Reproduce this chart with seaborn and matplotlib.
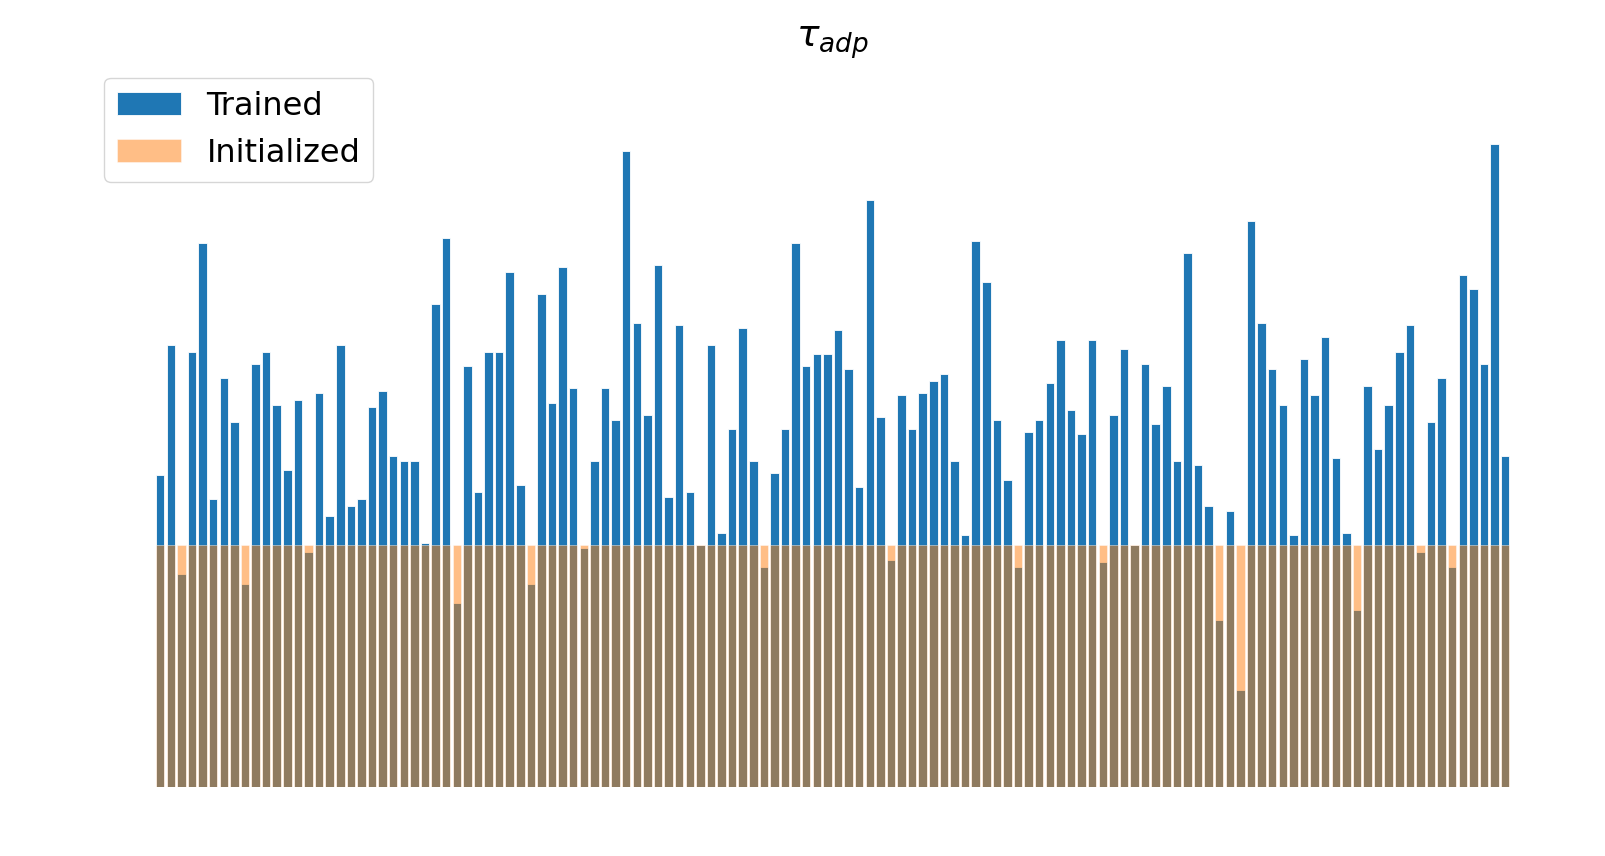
import numpy as np
import pandas as pd
import matplotlib
matplotlib.use("Agg")
import matplotlib.pyplot as plt
import seaborn as sns

# tau_adp per neuron, in units of the (constant) initial value
trained = [
    1.29, 1.83, 0.88, 1.80, 2.25, 1.19, 1.69, 1.51, 0.84, 1.75,
    1.80, 1.58, 1.31, 1.60, 0.97, 1.63, 1.12, 1.83, 1.16, 1.19,
    1.57, 1.64, 1.37, 1.35, 1.35, 1.01, 2.00, 2.27, 0.76, 1.74,
    1.22, 1.80, 1.80, 2.13, 1.25, 0.84, 2.04, 1.59, 2.15, 1.65,
    0.99, 1.35, 1.65, 1.52, 2.63, 1.92, 1.54, 2.16, 1.20, 1.91,
    1.22, 1.00, 1.83, 1.05, 1.48, 1.90, 1.35, 0.91, 1.30, 1.48,
    2.25, 1.74, 1.79, 1.79, 1.89, 1.73, 1.24, 2.43, 1.53, 0.94,
    1.62, 1.48, 1.63, 1.68, 1.71, 1.35, 1.04, 2.26, 2.09, 1.52,
    1.27, 0.91, 1.47, 1.52, 1.67, 1.85, 1.56, 1.46, 1.85, 0.93,
    1.54, 1.81, 1.00, 1.75, 1.50, 1.66, 1.35, 2.21, 1.33, 1.16,
    0.69, 1.14, 0.40, 2.34, 1.92, 1.73, 1.58, 1.04, 1.77, 1.62,
    1.86, 1.36, 1.05, 0.73, 1.66, 1.40, 1.58, 1.80, 1.91, 0.97,
    1.51, 1.69, 0.91, 2.12, 2.06, 1.75, 2.66, 1.37,
]
initialized = [1.0] * len(trained)
neuron = list(range(len(trained)))

df = pd.DataFrame({"neuron": neuron, "trained": trained, "initialized": initialized})

sns.set_theme(style="white")
plt.rcParams["font.family"] = ["DejaVu Sans"]
plt.rcParams["text.color"] = "black"

fig = plt.figure(figsize=(16.06, 8.56), dpi=100)
ax = fig.add_axes([0.055, 0.081, 0.927, 0.8465])

sns.barplot(data=df, x="neuron", y="trained", color="#1f77b4", saturation=1,
            label="Trained", edgecolor="white", linewidth=0.6, ax=ax)
sns.barplot(data=df, x="neuron", y="initialized", color="#ff7f0e", saturation=1,
            alpha=0.5, label="Initialized", edgecolor="white", linewidth=0.6, ax=ax)

n = len(neuron)
pad = 0.05 * (n - 1 + 0.8)
ax.set_xlim(-0.4 - pad, n - 1 + 0.4 + pad)
ax.set_ylim(0, 3.0)
ax.axis("off")

ax.set_title(r"$\tau_{adp}$", fontsize=27, pad=11, color="black")
leg = ax.legend(loc="upper left", fontsize=23, frameon=True)
for t in leg.get_texts():
    t.set_color("black")

fig.savefig("out.png", dpi=100)
